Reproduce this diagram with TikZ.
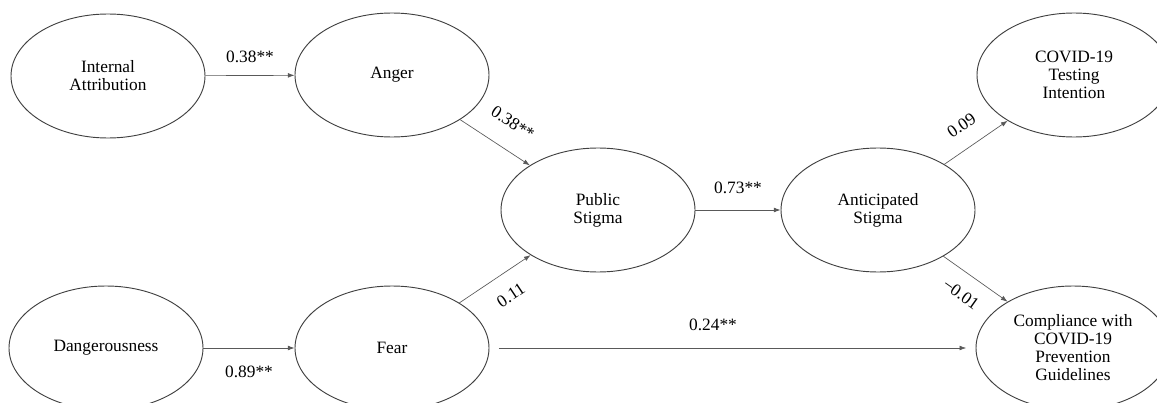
\documentclass[tikz,border=0pt]{standalone}
\usepackage{fontspec}
\setmainfont{Liberation Serif}
\usepackage{tikz}
\usetikzlibrary{shapes.geometric}
\usetikzlibrary{arrows.meta}
\tikzset{
    construct/.style={draw=black!75, line width=0.7pt, ellipse, minimum width=145.5pt, minimum height=93pt, inner sep=0pt, align=center, font=\fontsize{13}{13.5}\selectfont},
    link/.style={draw=black!65, line width=0.5pt, -{Latex[length=5pt, width=3.6pt]}},
    coef/.style={font=\fontsize{13}{15}\selectfont, inner sep=1pt}
}

\begin{document}
\begin{tikzpicture}[x=0.75pt, y=-0.75pt]
      \useasboundingbox (0,0) rectangle (1157,403);
      \clip (0,0) rectangle (1157,403);

      \path
          node[construct] (internal) at (108,76) {Internal\\Attribution}
          node[construct] (anger) at (392,75) {Anger}
          node[construct] (public) at (598,210) {Public\\Stigma}
          node[construct] (anticipated) at (878,210) {Anticipated\\Stigma}
          node[construct] (testing) at (1074,75) {COVID-19\\Testing\\Intention}
          node[construct] (danger) at (106,348) {Dangerousness}
          node[construct] (fear) at (392,348) {Fear}
          node[construct] (compliance) at (1073,348) {Compliance with\\COVID-19\\Prevention\\Guidelines};

      \draw[link] (internal) -- node[coef, above=8pt] {0.38**} (anger);
      \draw[link] (anger) -- node[coef, sloped, pos=0.55, above=14pt] {0.38**} (public);
      \draw[link] (public) -- node[coef, above=11pt] {0.73**} (anticipated);
      \draw[link] (anticipated) -- node[coef, sloped, pos=0.47, above=11pt] {0.09} (testing);
      \draw[link] (anticipated) -- node[coef, sloped, pos=0.46, below=10pt] {−0.01} (compliance);
      \draw[link] (danger) -- node[coef, below=12pt] {0.89**} (fear);
      \draw[link] (fear) -- node[coef, sloped, pos=0.55, below=11pt] {0.11} (public);
      \draw[link, shorten <=7pt, shorten >=7pt] (fear) -- node[coef, pos=0.46, above=12pt] {0.24**} (compliance);
    \end{tikzpicture}
\end{document}
